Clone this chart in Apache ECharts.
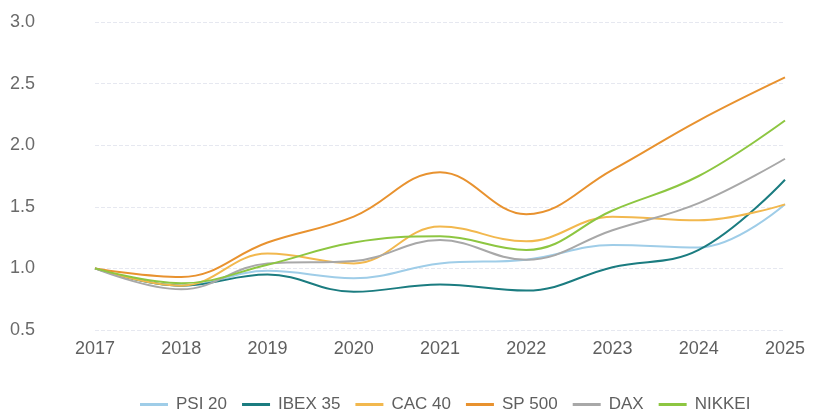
<!DOCTYPE html>
<html>
<head>
<meta charset="utf-8">
<script src="https://cdn.jsdelivr.net/npm/echarts@6/dist/echarts.min.js"></script>
<style>
  html, body { margin: 0; padding: 0; background: #fff; }
  #chart { width: 815px; height: 413px; }
</style>
</head>
<body>
<div id="chart"></div>
<script>
// dados (índice, base 2017 = 1)
const years = ['2017', '2018', '2019', '2020', '2021', '2022', '2023', '2024', '2025'];
const psi20 = [1.00, 0.86, 0.98, 0.92, 1.04, 1.07, 1.19, 1.17, 1.52];
const ibex35 = [1.00, 0.86, 0.95, 0.81, 0.87, 0.82, 1.01, 1.15, 1.72];
const cac40 = [1.00, 0.86, 1.12, 1.04, 1.34, 1.22, 1.42, 1.39, 1.52];
const sp500 = [1.00, 0.93, 1.21, 1.42, 1.78, 1.44, 1.80, 2.20, 2.55];
const dax = [1.00, 0.83, 1.04, 1.06, 1.23, 1.07, 1.31, 1.53, 1.89];
const nikkei = [1.00, 0.88, 1.03, 1.21, 1.26, 1.15, 1.47, 1.75, 2.20];

const names = ['PSI 20', 'IBEX 35', 'CAC 40', 'SP 500', 'DAX', 'NIKKEI'];
const colors = ['#9fcde8', '#1b7c80', '#f2b84e', '#e8922f', '#a8a8a8', '#8dc641'];
const values = [psi20, ibex35, cac40, sp500, dax, nikkei];

const font = 'Liberation Sans';

const myChart = echarts.init(document.getElementById('chart'));

myChart.setOption({
    animation: false,
    grid: { left: 95, right: 30, top: 22, bottom: 83 },
    legend: {
        top: 391,
        left: 135,
        icon: 'rect',
        itemWidth: 28,
        itemHeight: 3,
        itemGap: 15,
        textStyle: { color: '#5f5f5f', fontSize: 17, fontFamily: font, padding: [0, 0, 0, 3] },
        data: names
    },
    xAxis: {
        type: 'category',
        data: years,
        boundaryGap: false,
        axisLine: { show: false },
        axisTick: { show: false },
        axisLabel: { color: '#5f5f5f', fontSize: 18, margin: 10, fontFamily: font }
    },
    yAxis: {
        type: 'value',
        min: 0.5,
        max: 3.0,
        interval: 0.5,
        axisLabel: {
            color: '#6a6a6a', fontSize: 18, margin: 60, fontFamily: font,
            formatter: (v) => v.toFixed(1)
        },
        splitLine: { lineStyle: { color: '#e6e8f0', type: 'dashed' } }
    },
    series: names.map((n, i) => ({
        name: n,
        type: 'line',
        smooth: 0.4,
        showSymbol: false,
        color: colors[i],
        lineStyle: { width: 2 },
        data: values[i]
    }))
});
</script>
</body>
</html>
